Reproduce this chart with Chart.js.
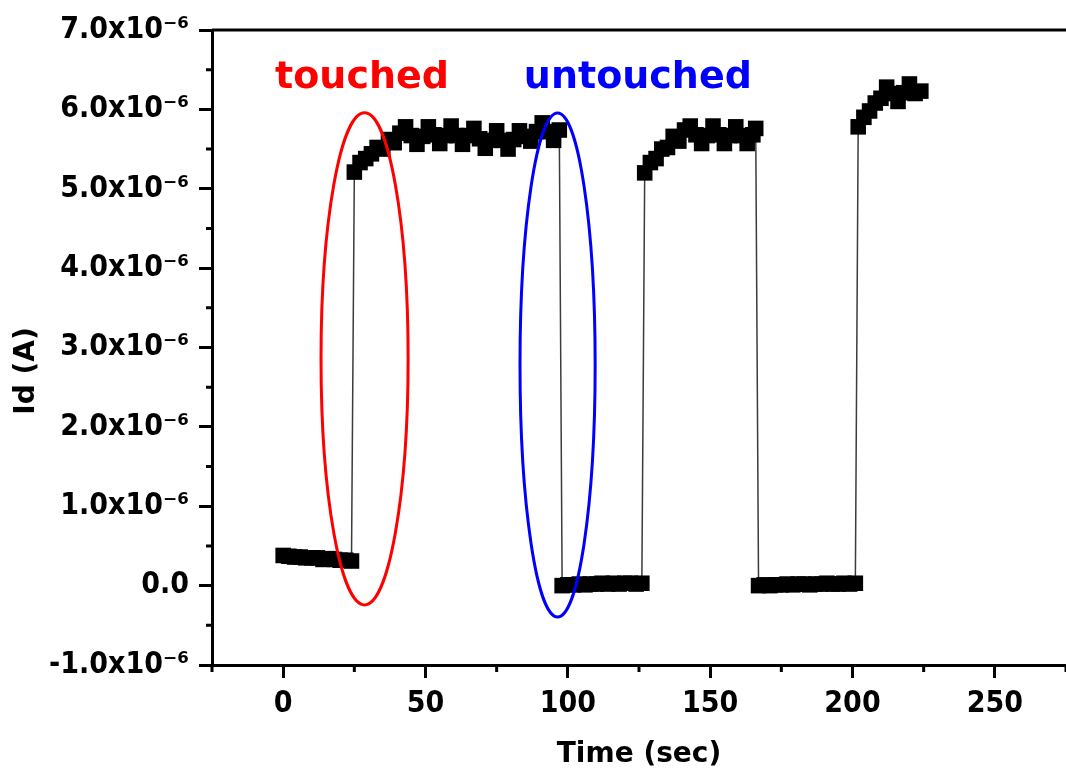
<!DOCTYPE html>
<html>
<head>
<meta charset="utf-8">
<script src="https://cdn.jsdelivr.net/npm/chart.js@4.4.0/dist/chart.umd.min.js"></script>
<style>
  html, body { margin: 0; padding: 0; background: #fff; overflow: hidden; }
</style>
</head>
<body>
<canvas id="idChart" width="1066" height="780"></canvas>
<script>
// time in seconds, drain current in units of 1e-6 A
const timeSec = [
  0, 2, 4, 6, 8, 10, 12, 14, 16, 18, 20, 22, 24,
  25, 27, 29, 31, 33, 35, 37, 39, 41, 43, 45, 47, 49, 51, 53, 55, 57, 59, 61,
  63, 65, 67, 69, 71, 73, 75, 77, 79, 81, 83, 85, 87, 89, 91, 93, 95, 97,
  98, 100, 102, 104, 106, 108, 110, 112, 114, 116, 118, 120, 122, 124, 126,
  127, 129, 131, 133, 135, 137, 139, 141, 143, 145, 147, 149, 151, 153, 155,
  157, 159, 161, 163, 165, 166,
  167, 169, 171, 173, 175, 177, 179, 181, 183, 185, 187, 189, 191, 193, 195,
  197, 199, 201,
  202, 204, 206, 208, 210, 212, 214, 216, 218, 220, 222, 224
];
const currentMicroA = [
  0.38, 0.37, 0.36, 0.36, 0.35, 0.35, 0.35, 0.33, 0.34, 0.33, 0.32, 0.32, 0.31,
  5.21, 5.33, 5.38, 5.44, 5.52, 5.50, 5.62, 5.58, 5.70, 5.78, 5.67, 5.56, 5.66,
  5.78, 5.68, 5.57, 5.67, 5.79, 5.67, 5.56, 5.67, 5.76, 5.63, 5.51, 5.61, 5.73,
  5.61, 5.50, 5.62, 5.73, 5.66, 5.60, 5.72, 5.83, 5.72, 5.61, 5.74,
  0.00, 0.01, 0.01, 0.02, 0.01, 0.02, 0.02, 0.03, 0.02, 0.03, 0.02, 0.03, 0.03,
  0.02, 0.03,
  5.20, 5.33, 5.38, 5.50, 5.52, 5.66, 5.60, 5.74, 5.79, 5.68, 5.57, 5.67, 5.79,
  5.68, 5.57, 5.67, 5.78, 5.67, 5.57, 5.68, 5.76,
  0.00, 0.01, 0.00, 0.01, 0.01, 0.02, 0.01, 0.02, 0.02, 0.01, 0.02, 0.02, 0.03,
  0.02, 0.02, 0.03, 0.02, 0.03,
  5.78, 5.90, 5.98, 6.08, 6.14, 6.28, 6.20, 6.10, 6.21, 6.32, 6.20, 6.23
];
const xTicks = [0, 50, 100, 150, 200, 250];
const xMinorTicks = [-25, 25, 75, 125, 175, 225, 275];
const yMinorTicks = [-0.5, 0.5, 1.5, 2.5, 3.5, 4.5, 5.5, 6.5];

// marked regions: [label, colour, centre time, centre current, half width (s), half height]
const marks = [
  ["touched", "#ff0000", 28.6, 2.857, 15.3, 3.10],
  ["untouched", "#0000ff", 96.4, 2.78, 13.2, 3.175]
];
const labelAt = [[27.7, 6.27], [124.6, 6.27]];

const tickFont = { family: "'DejaVu Sans Condensed', 'DejaVu Sans', sans-serif", size: 30, weight: "bold" };
const titleFont = { family: "'DejaVu Sans', sans-serif", size: 28, weight: "bold" };

const points = timeSec.map(function (t, i) { return { x: t, y: currentMicroA[i] }; });

const extras = {
  id: "extras",
  afterDraw: function (chart) {
    const ctx = chart.ctx;
    const xs = chart.scales.x, ys = chart.scales.y;
    const area = chart.chartArea;
    ctx.save();
    ctx.strokeStyle = "#000";
    ctx.lineWidth = 3;
    // top frame line
    ctx.beginPath();
    ctx.moveTo(area.left, area.top);
    ctx.lineTo(area.right, area.top);
    ctx.stroke();
    // minor ticks
    ctx.beginPath();
    xMinorTicks.forEach(function (v) {
      const px = xs.getPixelForValue(v);
      ctx.moveTo(px, area.bottom);
      ctx.lineTo(px, area.bottom + 7);
    });
    yMinorTicks.forEach(function (v) {
      const py = ys.getPixelForValue(v);
      ctx.moveTo(area.left, py);
      ctx.lineTo(area.left - 6, py);
    });
    ctx.stroke();

    // ellipses and labels
    marks.forEach(function (m, i) {
      const cx = xs.getPixelForValue(m[2]);
      const cy = ys.getPixelForValue(m[3]);
      const rx = xs.getPixelForValue(m[2] + m[4]) - cx;
      const ry = cy - ys.getPixelForValue(m[3] + m[5]);
      ctx.strokeStyle = m[1];
      ctx.lineWidth = 3;
      ctx.beginPath();
      ctx.ellipse(cx, cy, rx, ry, 0, 0, Math.PI * 2);
      ctx.stroke();
      ctx.fillStyle = m[1];
      ctx.font = "bold 38px 'DejaVu Sans', sans-serif";
      ctx.textAlign = "center";
      ctx.textBaseline = "alphabetic";
      ctx.fillText(m[0], xs.getPixelForValue(labelAt[i][0]), ys.getPixelForValue(labelAt[i][1]));
    });

    // y axis title
    ctx.fillStyle = "#000";
    ctx.font = "bold 28px 'DejaVu Sans', sans-serif";
    ctx.translate(27, 371);
    ctx.rotate(-Math.PI / 2);
    ctx.textAlign = "center";
    ctx.textBaseline = "middle";
    ctx.fillText("Id (A)", 0, 0);
    ctx.restore();
  }
};

new Chart(document.getElementById("idChart"), {
  type: "line",
  data: {
    datasets: [{
      data: points,
      borderColor: "#3c3c3c",
      borderWidth: 1.5,
      pointStyle: "rect",
      pointRadius: 11,
      pointBackgroundColor: "#000",
      pointBorderWidth: 0,
      tension: 0
    }]
  },
  options: {
    responsive: false,
    animation: false,
    layout: { autoPadding: false, padding: { top: 30, left: 0, right: 0, bottom: 0 } },
    plugins: { legend: { display: false }, tooltip: { enabled: false } },
    scales: {
      x: {
        type: "linear",
        min: -25,
        max: 275,
        afterBuildTicks: function (s) { s.ticks = xTicks.map(function (v) { return { value: v }; }); },
        afterFit: function (s) { s.height = 115; s.paddingLeft = 0; s.paddingRight = 0; },
        ticks: { color: "#000", font: tickFont, padding: 8, maxRotation: 0 },
        grid: { drawOnChartArea: false, tickLength: 13, tickWidth: 3, tickColor: "#000" },
        border: { color: "#000", width: 3 },
        title: { display: true, text: "Time (sec)", color: "#000", font: titleFont, padding: { top: 0, bottom: 8 } }
      },
      y: {
        min: -1,
        max: 7,
        afterFit: function (s) { s.width = 212; },
        ticks: {
          stepSize: 1,
          color: "#000",
          font: tickFont,
          padding: 10,
          callback: function (v) { return v === 0 ? "0.0" : v.toFixed(1) + "x10\u207B\u2076"; }
        },
        grid: { drawOnChartArea: false, tickLength: 13, tickWidth: 3, tickColor: "#000" },
        border: { color: "#000", width: 3 }
      }
    }
  },
  plugins: [extras]
});
</script>
</body>
</html>
